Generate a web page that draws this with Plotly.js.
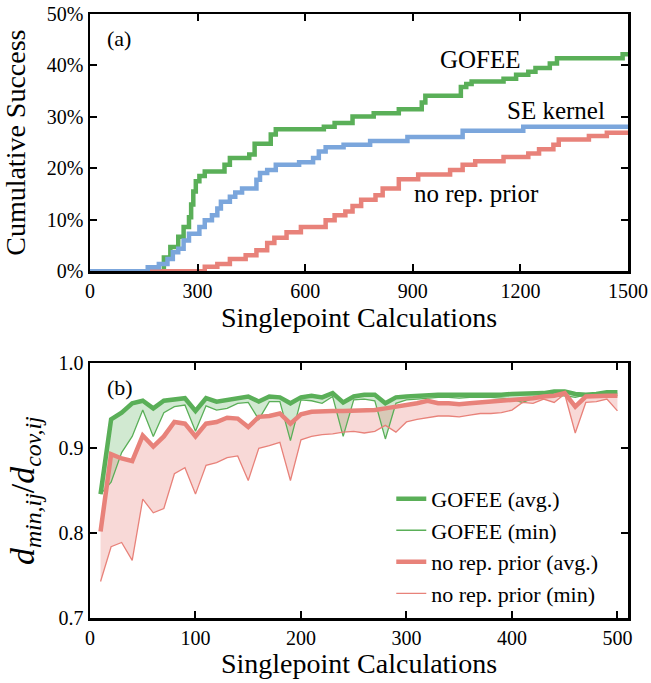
<!DOCTYPE html>
<html>
<head>
<meta charset="utf-8">
<script src="https://cdn.plot.ly/plotly-3.0.1.min.js"></script>
<style>html,body{margin:0;padding:0;background:#fff;}</style>
</head>
<body>
<div id="chart" style="width:651px;height:683px;"></div>
<script>
// ---- Panel (a): cumulative success vs singlepoint calculations (step curves) ----
const gofeeX = [0,206,224,246,261,276,282,288,295,305,320,375,390,444,459,504,518,652,682,732,791,861,925,935,1034,1049,1064,1153,1188,1222,1242,1282,1302,1485,1500];
const gofeeY = [0,2.7,4.7,6.7,8.6,10.5,13,15.5,17.5,18.5,19.4,20.7,22,22.7,24.8,26.6,27.6,28.1,28.8,30.1,30.7,31.5,32.8,34.1,35.8,36.4,36.9,37.4,38.2,38.8,39.5,40.4,41.4,42.2,42.2];
const seX = [0,161,192,216,231,246,261,276,305,320,340,355,365,390,405,424,464,474,494,518,583,622,638,657,707,781,885,1039,1208,1500];
const seY = [0,0.8,1.4,2.4,3.7,4.4,6,7.3,8.6,9.9,10.9,12.2,13.5,14.5,15.3,16.1,17.8,19.1,19.7,20.7,21.2,22,23.3,24.1,24.6,25.3,26.1,27.3,28.1,28.1];
const norepX = [0,320,355,390,434,464,494,514,548,588,657,682,712,732,756,796,816,861,915,1004,1039,1074,1153,1222,1252,1292,1307,1391,1441,1500];
const norepY = [0,0.9,1.4,2.4,3.1,4.1,5.5,6.5,7.6,8.6,9.9,10.9,11.6,12.7,13.9,14.8,16.1,17.9,18.8,19.7,20.7,21.4,22.2,22.9,23.7,24.6,25.6,26.3,26.9,26.9];
const pctTickVals = [0,10,20,30,40,50];
const pctTickText = ['0%','10%','20%','30%','40%','50%'];

// ---- Panel (b): d_min/d_cov vs singlepoint calculations ----
const calcs = [10,20,30,40,50,60,70,80,90,100,110,120,130,140,150,160,170,180,190,200,210,220,230,240,250,260,270,280,290,300,310,320,330,340,350,360,370,380,390,400,410,420,430,440,450,460,470,480,490,500];
const gofeeAvg = [0.846,0.934,0.942,0.953,0.956,0.947,0.956,0.958,0.959,0.944,0.959,0.955,0.957,0.958,0.961,0.955,0.961,0.960,0.953,0.960,0.962,0.960,0.965,0.954,0.961,0.963,0.963,0.953,0.960,0.961,0.962,0.963,0.963,0.963,0.963,0.963,0.962,0.963,0.963,0.964,0.964,0.965,0.965,0.967,0.967,0.964,0.963,0.964,0.966,0.966];
const gofeeMin = [0.846,0.860,0.895,0.914,0.945,0.914,0.942,0.949,0.951,0.920,0.950,0.945,0.947,0.953,0.954,0.934,0.955,0.955,0.909,0.957,0.956,0.953,0.961,0.914,0.957,0.958,0.956,0.911,0.953,0.957,0.958,0.959,0.960,0.960,0.959,0.960,0.960,0.960,0.959,0.958,0.954,0.959,0.960,0.961,0.962,0.960,0.963,0.962,0.962,0.962];
const norepAvg = [0.802,0.893,0.888,0.885,0.915,0.902,0.914,0.931,0.929,0.914,0.929,0.931,0.936,0.935,0.925,0.937,0.938,0.941,0.929,0.940,0.943,0.944,0.944,0.944,0.944,0.944,0.945,0.947,0.949,0.950,0.953,0.956,0.953,0.953,0.952,0.953,0.954,0.954,0.955,0.956,0.958,0.959,0.961,0.962,0.965,0.949,0.961,0.962,0.962,0.962];
const norepMin = [0.743,0.784,0.789,0.768,0.840,0.824,0.829,0.870,0.877,0.846,0.880,0.883,0.889,0.891,0.862,0.900,0.903,0.907,0.862,0.910,0.914,0.916,0.917,0.919,0.920,0.918,0.920,0.927,0.919,0.931,0.934,0.936,0.938,0.938,0.937,0.939,0.941,0.941,0.942,0.945,0.954,0.953,0.958,0.954,0.964,0.918,0.954,0.955,0.958,0.944];

const GREEN = '#5aaf58';
const BLUE = '#7ba6dc';
const RED = '#e8827a';
const FONT = 'Liberation Serif, Times New Roman, serif';

const traces = [
  // panel (a)
  {x: gofeeX, y: gofeeY, xaxis:'x', yaxis:'y', mode:'lines', line:{shape:'hv', color:GREEN, width:4.5}, showlegend:false, hoverinfo:'skip'},
  {x: norepX, y: norepY, xaxis:'x', yaxis:'y', mode:'lines', line:{shape:'hv', color:RED, width:4.5}, showlegend:false, hoverinfo:'skip'},
  {x: seX, y: seY, xaxis:'x', yaxis:'y', mode:'lines', line:{shape:'hv', color:BLUE, width:4.5}, showlegend:false, hoverinfo:'skip'},
  // panel (b) fills
  {x: calcs, y: gofeeMin, xaxis:'x2', yaxis:'y2', mode:'lines', line:{width:0, color:GREEN}, showlegend:false, hoverinfo:'skip'},
  {x: calcs, y: gofeeAvg, xaxis:'x2', yaxis:'y2', mode:'lines', line:{width:0, color:GREEN}, fill:'tonexty', fillcolor:'rgba(90,175,88,0.28)', showlegend:false, hoverinfo:'skip'},
  {x: calcs, y: norepMin, xaxis:'x2', yaxis:'y2', mode:'lines', line:{width:0, color:RED}, showlegend:false, hoverinfo:'skip'},
  {x: calcs, y: norepAvg, xaxis:'x2', yaxis:'y2', mode:'lines', line:{width:0, color:RED}, fill:'tonexty', fillcolor:'rgba(232,130,122,0.3)', showlegend:false, hoverinfo:'skip'},
  // panel (b) lines
  {x: calcs, y: gofeeAvg, xaxis:'x2', yaxis:'y2', mode:'lines', name:'GOFEE (avg.)', line:{color:GREEN, width:4.5}},
  {x: calcs, y: gofeeMin, xaxis:'x2', yaxis:'y2', mode:'lines', name:'GOFEE (min)', line:{color:GREEN, width:1.3}},
  {x: calcs, y: norepAvg, xaxis:'x2', yaxis:'y2', mode:'lines', name:'no rep. prior (avg.)', line:{color:RED, width:4.5}},
  {x: calcs, y: norepMin, xaxis:'x2', yaxis:'y2', mode:'lines', name:'no rep. prior (min)', line:{color:RED, width:1.3}}
];

const axisCommon = {
  showgrid:false, zeroline:false, showline:true, linecolor:'#000', linewidth:2.5,
  mirror:'ticks', ticks:'inside', ticklen:7, tickwidth:2, tickcolor:'#000',
  tickfont:{family:FONT, size:20, color:'#000'}, automargin:false
};
const titleFont = {family:FONT, size:28, color:'#000'};

const layout = {
  width:651, height:683,
  margin:{l:90, r:23, t:14, b:65},
  paper_bgcolor:'#fff', plot_bgcolor:'#fff',
  font:{family:FONT, color:'#000'},
  showlegend:true,
  legend:{x:0.56, y:0.232, xanchor:'left', yanchor:'top', traceorder:'normal', bgcolor:'rgba(0,0,0,0)', font:{family:FONT, size:22, color:'#000'}, tracegroupgap:0},
  xaxis: Object.assign({}, axisCommon, {domain:[0,1], anchor:'y', range:[0,1500], tickvals:[0,300,600,900,1200,1500],
    title:{text:'Singlepoint Calculations', font:titleFont, standoff:0}}),
  yaxis: Object.assign({}, axisCommon, {domain:[0.574,1], anchor:'x', range:[0,50], tickvals:pctTickVals, ticktext:pctTickText,
    title:{text:'Cumulative Success', font:titleFont, standoff:20}}),
  xaxis2: Object.assign({}, axisCommon, {domain:[0,1], anchor:'y2', range:[0,510], tickvals:[0,100,200,300,400,500],
    title:{text:'Singlepoint Calculations', font:titleFont, standoff:3}}),
  yaxis2: Object.assign({}, axisCommon, {domain:[0,0.4215], anchor:'x2', range:[0.7,1.0], tickvals:[0.7,0.8,0.9,1.0], ticktext:['0.7','0.8','0.9','1.0'],
    title:{text:'<i>d</i><sub><i>min,ij</i></sub>/<i>d</i><sub><i>cov,ij</i></sub>', font:{family:FONT, size:34, color:'#000'}, standoff:14}}),
  annotations:[
    {xref:'x', yref:'y', x:1089, y:41.1, text:'GOFEE', showarrow:false, font:{family:FONT, size:25, color:'#000'}},
    {xref:'x', yref:'y', x:1300, y:31.2, text:'SE kernel', showarrow:false, font:{family:FONT, size:25, color:'#000'}},
    {xref:'x', yref:'y', x:1078, y:15.1, text:'no rep. prior', showarrow:false, font:{family:FONT, size:25, color:'#000'}},
    {xref:'x domain', yref:'y domain', x:0.028, y:0.905, xanchor:'left', yanchor:'middle', text:'(a)', showarrow:false, font:{family:FONT, size:22, color:'#000'}},
    {xref:'x2 domain', yref:'y2 domain', x:0.028, y:0.905, xanchor:'left', yanchor:'middle', text:'(b)', showarrow:false, font:{family:FONT, size:22, color:'#000'}}
  ]
};

Plotly.newPlot('chart', traces, layout, {displayModeBar:false, staticPlot:true});
</script>
</body>
</html>
